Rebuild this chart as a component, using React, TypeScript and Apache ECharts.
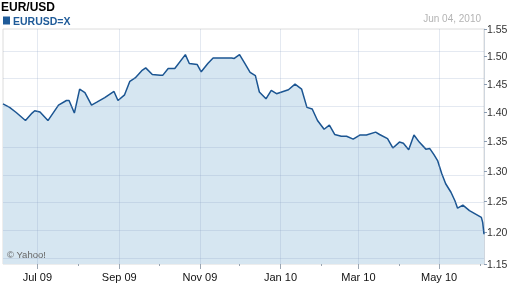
import React, { useEffect, useRef } from "react";
import * as echarts from "echarts";

// EUR/USD daily close
const dates = [
  "2009-06-05", "2009-06-10", "2009-06-15", "2009-06-22", "2009-06-27", "2009-06-29",
  "2009-07-03", "2009-07-09", "2009-07-17", "2009-07-23", "2009-07-25", "2009-07-29",
  "2009-08-02", "2009-08-06", "2009-08-11", "2009-08-15", "2009-08-21", "2009-08-28",
  "2009-08-31", "2009-09-05", "2009-09-09", "2009-09-13", "2009-09-18", "2009-09-21",
  "2009-09-26", "2009-10-02", "2009-10-04", "2009-10-08", "2009-10-13", "2009-10-21",
  "2009-10-24", "2009-10-30", "2009-11-02", "2009-11-07", "2009-11-11", "2009-11-25",
  "2009-11-27", "2009-12-01", "2009-12-05", "2009-12-09", "2009-12-13", "2009-12-16",
  "2009-12-21", "2009-12-25", "2009-12-29", "2010-01-03", "2010-01-07", "2010-01-12",
  "2010-01-17", "2010-01-21", "2010-01-25", "2010-01-29", "2010-02-03", "2010-02-07",
  "2010-02-11", "2010-02-16", "2010-02-20", "2010-02-25", "2010-03-02", "2010-03-07",
  "2010-03-14", "2010-03-17", "2010-03-23", "2010-03-27", "2010-04-01", "2010-04-04",
  "2010-04-08", "2010-04-12", "2010-04-16", "2010-04-21", "2010-04-24", "2010-04-27",
  "2010-04-30", "2010-05-03", "2010-05-06", "2010-05-10", "2010-05-13", "2010-05-15",
  "2010-05-19", "2010-05-24", "2010-05-29", "2010-06-02", "2010-06-03", "2010-06-04",
];
const rates = [
  1.415, 1.409, 1.4, 1.386, 1.399, 1.403,
  1.401, 1.386, 1.413, 1.421, 1.421, 1.399,
  1.441, 1.435, 1.413, 1.418, 1.426, 1.437,
  1.421, 1.431, 1.455, 1.461, 1.474, 1.479,
  1.467, 1.466, 1.466, 1.478, 1.478, 1.503,
  1.487, 1.485, 1.472, 1.487, 1.497, 1.497,
  1.496, 1.503, 1.487, 1.471, 1.465, 1.436,
  1.424, 1.439, 1.433, 1.437, 1.44, 1.45,
  1.441, 1.409, 1.406, 1.386, 1.371, 1.378,
  1.362, 1.359, 1.359, 1.354, 1.361, 1.361,
  1.366, 1.362, 1.355, 1.339, 1.349, 1.347,
  1.336, 1.361, 1.349, 1.337, 1.338, 1.328,
  1.317, 1.296, 1.279, 1.265, 1.251, 1.239,
  1.244, 1.235, 1.229, 1.224, 1.216, 1.197,
];
const yTicks = [1.15, 1.2, 1.25, 1.3, 1.35, 1.4, 1.45, 1.5, 1.55];
const majorMonths = ["2009-07-01", "2009-09-01", "2009-11-01", "2010-01-01", "2010-03-01", "2010-05-01"];
const minorMonths = ["2009-08-01", "2009-10-01", "2009-12-01", "2010-02-01", "2010-04-01", "2010-06-01"];
const monthNames = ["Jan", "Feb", "Mar", "Apr", "May", "Jun", "Jul", "Aug", "Sep", "Oct", "Nov", "Dec"];
const rangeStart = "2009-06-05";
const rangeEnd = "2010-06-04";

const ts = (s: string) => {
  const [y, m, d] = s.split("-").map(Number);
  return Date.UTC(y, m - 1, d);
};
// the reference price axis is slightly compressed toward the top (between linear and log)
const warp = (v: number) => Math.log(v + 1);
const unwarp = (t: number) => Math.exp(t) - 1;

const FONT = "Arial, 'Liberation Sans', sans-serif";

export default function App() {
  const ref = useRef<HTMLDivElement>(null);
  useEffect(() => {
    if (!ref.current) return;
    const chart = echarts.init(ref.current, undefined, { renderer: "svg" });
    const seriesData = dates.map((d, i) => [ts(d), warp(rates[i])]);
    const gridMarks = [
      ...majorMonths.map((d) => ({ xAxis: ts(d) })),
      ...yTicks.filter((v) => v < 1.55).map((v) => ({ yAxis: warp(v) })),
    ];
    chart.setOption({
      animation: false,
      textStyle: { fontFamily: FONT },
      title: [
        {
          text: "EUR/USD",
          left: 1,
          top: 1,
          padding: 0,
          textStyle: { fontSize: 12, fontWeight: "bold", color: "#000", fontFamily: FONT },
        },
        {
          text: "Jun 04, 2010",
          right: 31,
          top: 13,
          padding: 0,
          textStyle: { fontSize: 10, fontWeight: "normal", color: "#b4b4b4", fontFamily: FONT },
        },
      ],
      legend: {
        data: ["EURUSD=X"],
        left: 3,
        top: 15,
        padding: 0,
        icon: "rect",
        itemWidth: 7,
        itemHeight: 8,
        itemStyle: { color: "#1f5b99" },
        textStyle: { color: "#1f5b99", fontWeight: "bold", fontSize: 10.5, fontFamily: FONT, padding: [0, 0, 0, -2] },
        selectedMode: false,
      },
      grid: {
        left: 3,
        right: 28,
        top: 29,
        bottom: 24,
        show: true,
        borderColor: "#dcdcdc",
        borderWidth: 1,
      },
      xAxis: [
        {
          type: "value",
          min: ts(rangeStart),
          max: ts(rangeEnd),
          axisLine: { show: false },
          axisTick: { show: true, customValues: majorMonths.map(ts), length: 5, lineStyle: { color: "#9aa5b1" } },
          axisLabel: {
            customValues: majorMonths.map(ts),
            formatter: (v: number) => {
              const d = new Date(v);
              return `${monthNames[d.getUTCMonth()]} ${String(d.getUTCFullYear() % 100).padStart(2, "0")}`;
            },
            fontSize: 11,
            color: "#111",
            margin: 7,
            fontFamily: FONT,
          },
          splitLine: { show: false },
        },
        {
          type: "value",
          min: ts(rangeStart),
          max: ts(rangeEnd),
          position: "bottom",
          axisLine: { show: false },
          axisTick: { show: true, customValues: minorMonths.map(ts), length: 2, lineStyle: { color: "#9aa5b1" } },
          axisLabel: { show: false },
          splitLine: { show: false },
        },
      ],
      yAxis: {
        type: "value",
        position: "right",
        min: warp(1.15),
        max: warp(1.55),
        axisLine: { show: true, lineStyle: { color: "#cfd6de" } },
        axisTick: { show: true, customValues: yTicks.map(warp), length: 3, lineStyle: { color: "#8a9bb0" } },
        axisLabel: {
          customValues: yTicks.map(warp),
          formatter: (v: number) => unwarp(v).toFixed(2),
          fontSize: 10.5,
          color: "#333",
          margin: 3,
          fontFamily: FONT,
        },
        splitLine: { show: false },
      },
      series: [
        {
          name: "EURUSD=X",
          type: "line",
          xAxisIndex: 0,
          data: seriesData,
          symbol: "none",
          color: "#1f5a96",
          lineStyle: { color: "#1b5592", width: 1.5 },
          areaStyle: { color: "#d6e6f1", opacity: 1 },
          markLine: {
            silent: true,
            symbol: ["none", "none"],
            label: { show: false },
            lineStyle: { color: "rgba(130,155,190,0.22)", width: 1, type: "solid" },
            emphasis: { disabled: true },
            data: gridMarks,
          },
        },
      ],
      graphic: [
        {
          type: "text",
          left: 7,
          top: 249,
          z: 100,
          style: { text: "© Yahoo!", fill: "#666", font: `9.5px ${FONT}` },
        },
      ],
    });
    return () => chart.dispose();
  }, []);
  return <div ref={ref} style={{ position: "fixed", left: 0, top: 0, width: 512, height: 288 }} />;
}
